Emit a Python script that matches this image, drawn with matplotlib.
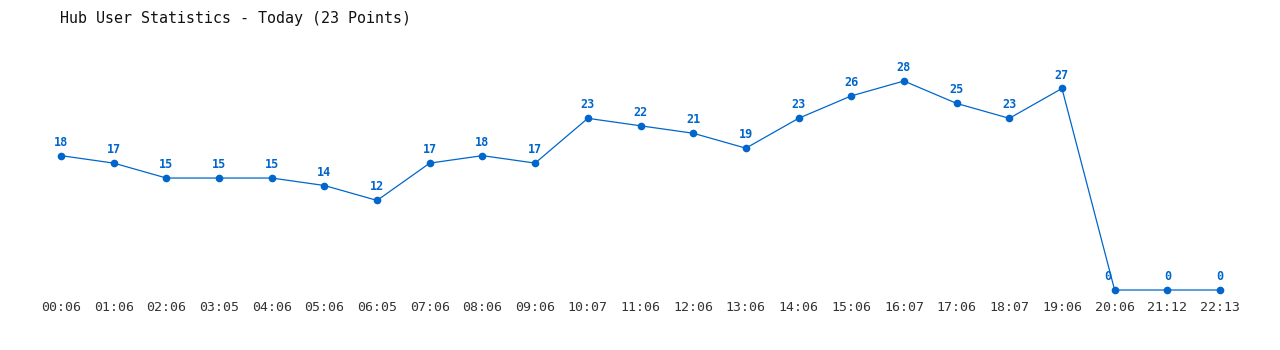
import matplotlib
matplotlib.use("Agg")
import matplotlib.pyplot as plt

times = ["00:06", "01:06", "02:06", "03:05", "04:06", "05:06", "06:05", "07:06",
         "08:06", "09:06", "10:07", "11:06", "12:06", "13:06", "14:06", "15:06",
         "16:07", "17:06", "18:07", "19:06", "20:06", "21:12", "22:13"]
users = [18, 17, 15, 15, 15, 14, 12, 17, 18, 17, 23, 22, 21, 19, 23, 26, 28, 25,
         23, 27, 0, 0, 0]

BLUE = "#0066cc"

fig = plt.figure(figsize=(12.8, 3.5), dpi=100)
ax = fig.add_axes([61 / 1280, 1 - 290 / 350, (1220 - 61) / 1280, (290 - 81) / 350])

x = list(range(len(users)))
ax.plot(x, users, color=BLUE, linewidth=0.9, marker="o", markersize=4.5, clip_on=False)

for i, v in enumerate(users):
    ax.annotate(str(v), (i, v), xytext=(-5 if v == 0 and i == 20 else 0, 5),
                textcoords="offset points", ha="center", va="bottom",
                color=BLUE, fontsize=8.5, fontweight="bold", family="DejaVu Sans Mono")

ax.set_xlim(0, len(users) - 1)
ax.set_ylim(0, 28)
ax.set_xticks(x)
ax.set_xticklabels(times, family="DejaVu Sans Mono", fontsize=9.5, color="#333333")
ax.tick_params(axis="x", length=0, pad=8)
ax.set_yticks([])
for s in ax.spines.values():
    s.set_visible(False)

fig.text(60 / 1280, 1 - 18 / 350, "Hub User Statistics - Today (23 Points)",
         family="DejaVu Sans Mono", fontsize=10.8, va="center", ha="left", color="#111111")

fig.savefig("out.png", dpi=100)
